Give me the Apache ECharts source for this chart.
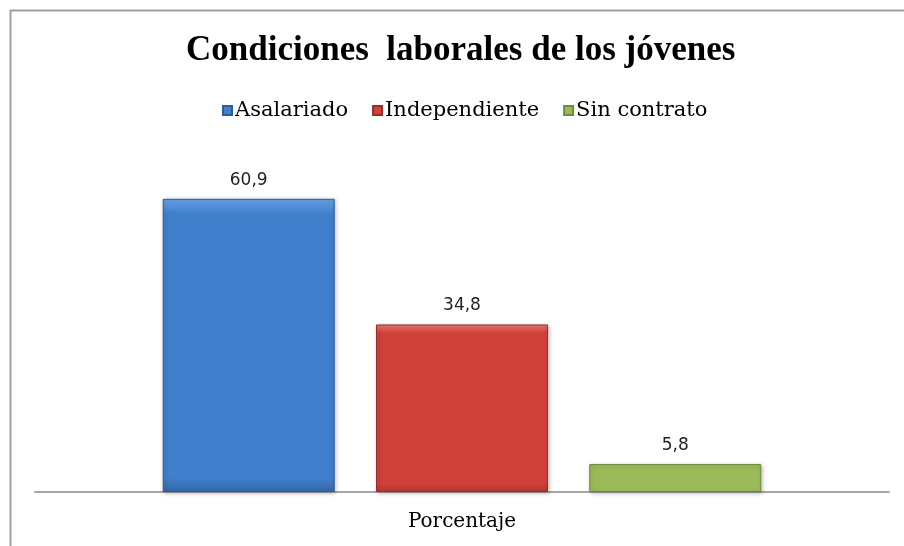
<!DOCTYPE html>
<html>
<head>
<meta charset="utf-8">
<script src="https://cdn.jsdelivr.net/npm/echarts@6/dist/echarts.min.js"></script>
<style>
  html, body {margin: 0; padding: 0; background: #fff;}
  #chart {width: 904px; height: 546px;}
</style>
</head>
<body>
<div id="chart"></div>
<script>
// Condiciones laborales de los jóvenes — one category, three series
const CATEGORIES = ["Porcentaje"]
const SERIES_NAMES = ["Asalariado", "Independiente", "Sin contrato"]
const SERIES_VALUES = [[60.9], [34.8], [5.8]]

const PALETTE = [
  {top: "#6aa2e6", mid: "#3f7fcc", bottom: "#3468aa", edge: "#2d5c98"},
  {top: "#ec7a74", mid: "#d0413c", bottom: "#b5352f", edge: "#9c2c28"},
  {top: "#c6e283", mid: "#9bbb59", bottom: "#84a24a", edge: "#6f8a3c"},
]

function barFill(c) {
  return new echarts.graphic.LinearGradient(0, 0, 0, 1, [
    {offset: 0, color: c.top},
    {offset: 0.05, color: c.mid},
    {offset: 0.95, color: c.mid},
    {offset: 1, color: c.bottom},
  ])
}

const chart = echarts.init(document.getElementById("chart"), null, {renderer: "canvas"})

chart.setOption({
  backgroundColor: "#fff",
  animation: false,
  title: {
    text: "Condiciones  laborales de los jóvenes",
    left: 181,
    top: 28,
    textStyle: {
      fontFamily: "Liberation Serif",
      fontWeight: "bold",
      fontSize: 35,
      color: "#000",
    },
  },
  legend: {
    top: 95,
    left: 217,
    itemWidth: 9,
    itemHeight: 9,
    itemGap: 24,
    icon: "rect",
    textStyle: {fontFamily: "DejaVu Serif", fontSize: 21, color: "#000", padding: [0, 0, 0, -2]},
    data: SERIES_NAMES,
  },
  graphic: [
    {
      type: "rect",
      left: 8,
      top: 8,
      shape: {width: 1000, height: 1000},
      style: {fill: "none", stroke: "#a0a0a0", lineWidth: 2},
      silent: true,
    },
  ],
  grid: {left: 35, right: 15, top: 155, bottom: 54},
  xAxis: {
    type: "category",
    data: CATEGORIES,
    axisLine: {lineStyle: {color: "#a6a6a6", width: 2}},
    axisTick: {show: false},
    axisLabel: {
      fontFamily: "DejaVu Serif",
      fontSize: 20,
      color: "#000",
      margin: 20,
    },
  },
  yAxis: {
    type: "value",
    min: 0,
    max: 70,
    show: false,
    splitLine: {show: false},
  },
  series: SERIES_NAMES.map((name, i) => ({
    name,
    type: "bar",
    data: SERIES_VALUES[i],
    barWidth: 172,
    barGap: "24%",
    itemStyle: {
      color: barFill(PALETTE[i]),
      borderColor: PALETTE[i].edge,
      borderWidth: 1,
      shadowColor: "rgba(0,0,0,0.25)",
      shadowBlur: 4,
      shadowOffsetX: 1,
      shadowOffsetY: 1,
    },
    label: {
      show: true,
      position: "top",
      distance: 10,
      formatter: p => String(p.value).replace(".", ","),
      fontFamily: "DejaVu Sans",
      fontSize: 17,
      color: "#222",
    },
  })),
})
</script>
</body>
</html>
